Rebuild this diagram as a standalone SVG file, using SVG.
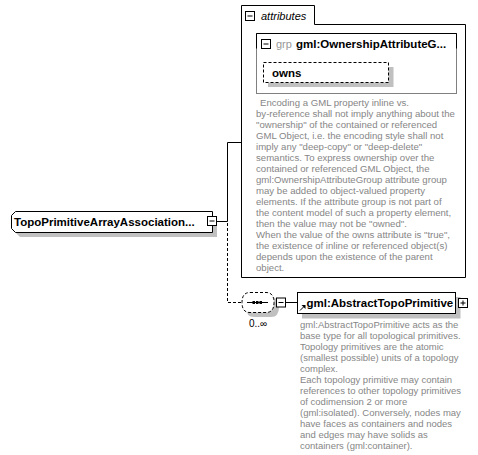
<svg xmlns="http://www.w3.org/2000/svg" width="478" height="455" viewBox="0 0 478 455">
<style>
.lbl{font-family:"Liberation Sans",Arial,sans-serif;font-size:11.5px;font-weight:bold;fill:#000}
.desc{font-family:"Liberation Sans",Arial,sans-serif;font-size:9.6px;fill:#868686}
.small{font-family:"Liberation Sans",Arial,sans-serif;font-size:10px;fill:#000}
.box{fill:#fff;stroke:#000;stroke-width:1}
.shadow{fill:#c0c0c0;stroke:none}
.dash{stroke-dasharray:3,2}
.conn{fill:none;stroke:#000;stroke-width:1}
.icon{fill:#fff;stroke:#000;stroke-width:1}
</style>
<rect width="478" height="455" fill="#fff"/>

<g id="connectors">
  <path class="conn" d="M216.5,221.5 H227.5 M227.5,221.5 V142.5 H241"/>
  <path class="conn dash" d="M227.5,223 V302.5 H242"/>
  <path class="conn" d="M274,302.5 H276.5 M285.5,302.5 H297"/>
</g>

<g id="node-attributes">
  <path class="box" d="M241.5,277.5 V5.5 H314.5 V24.5 H465.5 V277.5 Z"/>
  <rect class="icon" x="245.5" y="11.5" width="9" height="9"/>
  <path class="conn" d="M247.5,16 H252.5"/>
  <text x="261" y="20" class="small" style="font-size:11px;font-style:italic">attributes</text>
  <g class="desc">
    <text x="260" y="106">Encoding a GML property inline vs.</text>
    <text x="256" y="117">by-reference shall not imply anything about the</text>
    <text x="256" y="128">"ownership" of the contained or referenced</text>
    <text x="256" y="139">GML Object, i.e. the encoding style shall not</text>
    <text x="256" y="150">imply any "deep-copy" or "deep-delete"</text>
    <text x="256" y="161">semantics. To express ownership over the</text>
    <text x="256" y="172">contained or referenced GML Object, the</text>
    <text x="256" y="183">gml:OwnershipAttributeGroup attribute group</text>
    <text x="256" y="194">may be added to object-valued property</text>
    <text x="256" y="205">elements. If the attribute group is not part of</text>
    <text x="256" y="216">the content model of such a property element,</text>
    <text x="256" y="227">then the value may not be "owned".</text>
    <text x="256" y="238">When the value of the owns attribute is "true",</text>
    <text x="256" y="249">the existence of inline or referenced object(s)</text>
    <text x="256" y="260">depends upon the existence of the parent</text>
    <text x="256" y="271">object.</text>
  </g>
</g>

<g id="node-ownership-group">
  <rect x="256.5" y="33.5" width="200" height="60" fill="#fff" stroke="#808080"/>
  <path class="conn" d="M256.5,48.5 V33.5 H456.5 V48.5"/>
  <rect class="icon" x="261.5" y="39.5" width="9" height="9"/>
  <path class="conn" d="M263.5,44 H268.5"/>
  <text x="276" y="48" class="small" style="font-size:11px;fill:#999">grp</text>
  <text x="296" y="48" class="lbl">gml:OwnershipAttributeG...</text>
</g>

<g id="node-owns">
  <rect class="shadow" x="268" y="67" width="125.5" height="20"/>
  <rect class="box dash" x="263.5" y="62.5" width="125" height="20"/>
  <text x="272" y="76.5" class="lbl">owns</text>
</g>

<g id="node-topo-array">
  <path class="shadow" d="M20,216 H217 V237 H20 L16,233 V220 Z"/>
  <path class="box" d="M15.5,211.5 H212.5 V232.5 H15.5 L11.5,228.5 V215.5 Z"/>
  <text x="14" y="225.5" class="lbl">TopoPrimitiveArrayAssociation...</text>
  <rect class="icon" x="207.5" y="216.5" width="9" height="9"/>
  <path class="conn" d="M209.5,221 H214.5"/>
</g>

<g id="node-sequence">
  <path class="shadow" d="M254,297 H271 Q279,297 279,307 Q279,317 271,317 H254 Q246,317 246,307 Q246,297 254,297 Z"/>
  <path class="box dash" d="M250,292.5 H266 Q274,292.5 274,302.5 Q274,312.5 266,312.5 H250 Q242,312.5 242,302.5 Q242,292.5 250,292.5 Z"/>
  <path class="conn" d="M247,302.5 H268"/>
  <rect x="252.5" y="301" width="2.5" height="3" fill="#000"/>
  <rect x="256" y="301" width="2.5" height="3" fill="#000"/>
  <rect x="259.5" y="301" width="2.5" height="3" fill="#000"/>
  <rect class="icon" x="276.5" y="298" width="9" height="9"/>
  <path class="conn" d="M278.5,302.5 H283.5"/>
  <text x="249" y="327" class="small">0..∞</text>
</g>

<g id="node-abstract-topo-primitive">
  <rect class="shadow" x="302" y="297" width="158.5" height="21.5"/>
  <rect class="box" x="297.5" y="292.5" width="158" height="21"/>
  <path class="conn" d="M300,310.5 L304,306.5"/>
  <polygon points="301.5,305 305.5,305 305.5,309" fill="#000"/>
  <text x="306.5" y="306.5" class="lbl">gml:AbstractTopoPrimitive</text>
  <rect class="icon" x="458.5" y="298.5" width="9" height="9"/>
  <path class="conn" d="M460.5,303 H465.5 M463,300.5 V305.5"/>
  <g class="desc" style="font-size:9.5px">
    <text x="300" y="328">gml:AbstractTopoPrimitive acts as the</text>
    <text x="300" y="339">base type for all topological primitives.</text>
    <text x="300" y="350">Topology primitives are the atomic</text>
    <text x="300" y="361">(smallest possible) units of a topology</text>
    <text x="300" y="372">complex.</text>
    <text x="300" y="383">Each topology primitive may contain</text>
    <text x="300" y="394">references to other topology primitives</text>
    <text x="300" y="405">of codimension 2 or more</text>
    <text x="300" y="416">(gml:isolated). Conversely, nodes may</text>
    <text x="300" y="427">have faces as containers and nodes</text>
    <text x="300" y="438">and edges may have solids as</text>
    <text x="300" y="449">containers (gml:container).</text>
  </g>
</g>
</svg>
